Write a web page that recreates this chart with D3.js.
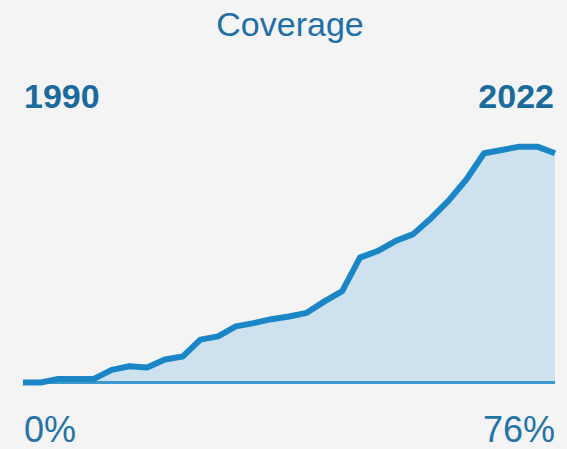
<!DOCTYPE html>
<html>
<head>
<meta charset="utf-8">
<script src="https://cdn.jsdelivr.net/npm/d3@7"></script>
<style>
  html, body { margin: 0; padding: 0; background: #f4f4f4; }
  svg { display: block; }
  text { font-family: "Liberation Sans", Arial, sans-serif; }
</style>
</head>
<body>
<svg id="chart" width="567" height="449"></svg>
<script>
// Coverage (%) over the period, one value per observation
const coverage = [0, 0, 1.2, 1.2, 1.2, 4.2, 5.4, 5.0, 7.6, 8.6,
                  14.2, 15.3, 18.6, 19.7, 21.0, 21.9, 23.1, 26.9, 30.3, 41.4,
                  43.6, 46.9, 49.2, 54.4, 60.3, 67.3, 76.0, 77.1, 78.2, 78.2, 76];
const periodLabels = ["1990", "2022"];
const valueLabels = ["0%", "76%"];
const title = "Coverage";

const left = 23, right = 555, baseY = 382.5, topY = 153.3;

const svg = d3.select("#chart");

const x = d3.scalePoint()
  .domain(d3.range(coverage.length))
  .range([left, right]);

const y = d3.scaleLinear()
  .domain([0, 76])
  .range([baseY, topY]);

const area = d3.area()
  .x((d, i) => x(i))
  .y0(y(0))
  .y1(d => y(d));

const line = d3.line()
  .x((d, i) => x(i))
  .y(d => y(d));

svg.append("path")
  .datum(coverage)
  .attr("d", area)
  .attr("fill", "#cde2ee");

// baseline
svg.append("line")
  .attr("x1", x(0)).attr("x2", x(coverage.length - 1))
  .attr("y1", y(0)).attr("y2", y(0))
  .attr("stroke", "#3f97d0")
  .attr("stroke-width", 3);

svg.append("path")
  .datum(coverage)
  .attr("d", line)
  .attr("fill", "none")
  .attr("stroke", "#1a86c6")
  .attr("stroke-width", 6)
  .attr("stroke-linejoin", "round");

svg.append("text")
  .attr("x", (left + right) / 2 + 1)
  .attr("y", 36)
  .attr("text-anchor", "middle")
  .attr("font-size", 34)
  .attr("fill", "#1f6fa6")
  .text(title);

svg.selectAll("text.period")
  .data(periodLabels)
  .join("text")
  .attr("class", "period")
  .attr("x", (d, i) => i === 0 ? left + 1 : right - 1)
  .attr("y", 108)
  .attr("text-anchor", (d, i) => i === 0 ? "start" : "end")
  .attr("font-size", 34)
  .attr("font-weight", "bold")
  .attr("fill", "#1b6a9c")
  .text(d => d);

svg.selectAll("text.value")
  .data(valueLabels)
  .join("text")
  .attr("class", "value")
  .attr("x", (d, i) => i === 0 ? left + 1 : right)
  .attr("y", 442)
  .attr("text-anchor", (d, i) => i === 0 ? "start" : "end")
  .attr("font-size", 36)
  .attr("fill", "#2474a8")
  .text(d => d);
</script>
</body>
</html>
